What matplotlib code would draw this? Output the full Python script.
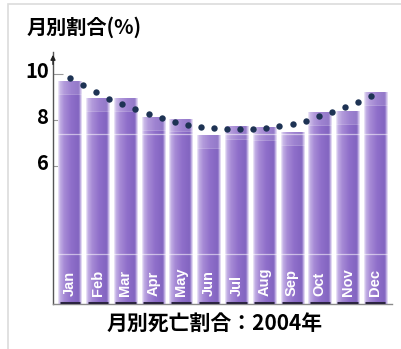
import numpy as np
import matplotlib.pyplot as plt
import matplotlib.transforms as mtransforms
from matplotlib.colors import LinearSegmentedColormap
from matplotlib.patches import Rectangle

plt.rcParams['font.family'] = ['Noto Sans CJK JP', 'DejaVu Sans']

# monthly share of deaths, 2004 (%)
months = ['Jan', 'Feb', 'Mar', 'Apr', 'May', 'Jun',
          'Jul', 'Aug', 'Sep', 'Oct', 'Nov', 'Dec']
monthly_pct = [9.70, 8.95, 8.95, 8.12, 8.06, 7.35,
               7.74, 7.70, 7.48, 8.33, 8.40, 9.22]

# smoothed half-monthly trend
trend_pct = [9.83, 9.52, 9.22, 8.91, 8.70, 8.48, 8.26, 8.09,
             7.91, 7.78, 7.70, 7.65, 7.61, 7.61, 7.61, 7.65,
             7.74, 7.83, 7.96, 8.17, 8.35, 8.57, 8.78, 9.04]

y_ticks = [6, 8, 10]

fig = plt.figure(figsize=(4.01, 3.49), dpi=100)
fig.patch.set_facecolor('white')

# light frame behind everything
bg = fig.add_axes([0, 0, 1, 1], zorder=0)
bg.axis('off')
bg.set_xlim(0, 1)
bg.set_ylim(0, 1)
bg.add_patch(Rectangle((8 / 401, -0.05), 1.0, 1 - 4 / 349 + 0.05,
                       facecolor='white', edgecolor='#dcdcdc', linewidth=1.2))

ax = fig.add_axes([53 / 401, 45 / 349, (392 - 53) / 401, (304 - 52) / 349], zorder=1)
ax.set_facecolor('none')
ax.set_xlim(-0.61, 11.6)
ax.set_ylim(0, 10.96)

x = np.arange(len(months))
width = 0.83

# horizontal gradient for each bar
bar_cmap = LinearSegmentedColormap.from_list('bar', [
    (0.00, '#f3effa'), (0.07, '#c4b1e6'), (0.25, '#a78bd6'),
    (0.55, '#8f6fca'), (0.88, '#8264c0'), (0.94, '#b9a6e0'), (1.00, '#f3effa')])
grad = np.linspace(0, 1, 64).reshape(1, -1)

bars = ax.bar(x, monthly_pct, width=width, color='none', edgecolor='none', zorder=2)
for rect in bars:
    x0, w, h = rect.get_x(), rect.get_width(), rect.get_height()
    im = ax.imshow(grad, cmap=bar_cmap, aspect='auto', extent=(x0, x0 + w, 0, h),
                   zorder=2, interpolation='bicubic')
    im.set_clip_path(rect)
    # lighter cap at the top of the bar
    ax.add_patch(Rectangle((x0, h - 0.55), w, 0.55, facecolor='white',
                           alpha=0.14, edgecolor='none', zorder=3))
    ax.plot([x0, x0 + w], [h - 0.55, h - 0.55], color='white', lw=0.6,
            alpha=0.3, zorder=3)
    # shadow under the bar
    ax.plot([x0 + 0.05, x0 + w - 0.05], [0.06, 0.06], color='#2b2540',
            lw=2.2, solid_capstyle='butt', zorder=3)

# faint reflection lines across the bars
for level in [7.39, 2.17]:
    for rect in bars:
        if rect.get_height() > level:
            ax.plot([rect.get_x(), rect.get_x() + rect.get_width()], [level, level],
                    color='white', lw=0.9, alpha=0.55, zorder=3)

for xi, name in zip(x, months):
    ax.text(xi, 0.35, name, rotation=90, ha='center', va='bottom',
            color='white', fontsize=10.5, fontweight='bold',
            family=['Liberation Sans'], zorder=4)

trend_x = np.linspace(0, 10.85, len(trend_pct))
ax.plot(trend_x, trend_pct, 'o', color='#1e3354', markersize=4.6, zorder=5,
        markeredgewidth=0)

for s in ['top', 'right']:
    ax.spines[s].set_visible(False)
ax.spines['left'].set_color('#555555')
ax.spines['left'].set_linewidth(1.0)
ax.spines['bottom'].set_color('#8a8a8a')
ax.spines['bottom'].set_linewidth(1.0)

ax.annotate('', xy=(-0.61, 10.96), xytext=(-0.61, 10.3),
            arrowprops=dict(arrowstyle='-|>', color='#222222', lw=1.0,
                            mutation_scale=7), annotation_clip=False)

ax.set_xticks([])
ax.set_yticks(y_ticks)
ax.set_yticklabels([str(t) for t in y_ticks], fontsize=14.5, fontweight='bold',
                   va='center')
ax.tick_params(axis='y', direction='in', length=7, width=0.8, color='#999999',
               pad=3)
# nudge the value labels up a little
shift = mtransforms.ScaledTranslation(0, 3 / 100, fig.dpi_scale_trans)
for lbl in ax.get_yticklabels():
    lbl.set_transform(lbl.get_transform() + shift)

fig.text(27 / 401, 1 - 27 / 349, '月別割合(%)', fontsize=14.5, fontweight='bold',
         ha='left', va='center')
fig.text(215 / 401, 1 - 323 / 349, '月別死亡割合：2004年', fontsize=15,
         fontweight='bold', ha='center', va='center')

fig.savefig('out.png', dpi=100)
